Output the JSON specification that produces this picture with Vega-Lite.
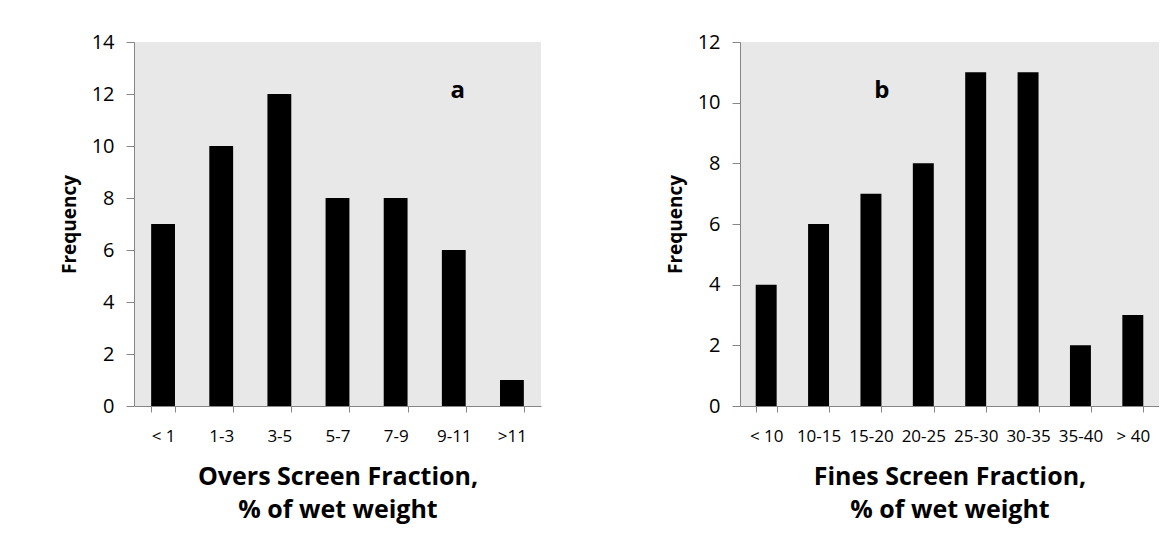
{
  "$schema": "https://vega.github.io/schema/vega-lite/v6.json",
  "padding": {"left": 60, "top": 32, "right": 0, "bottom": 10},
  "background": "white",
  "spacing": 125,
  "config": {
    "font": "Open Sans",
    "view": {"fill": "#e8e8e8", "stroke": null},
    "axis": {
      "domainColor": "#868686",
      "tickColor": "#868686",
      "labelColor": "#000000",
      "titleColor": "#000000",
      "grid": false,
      "labelFont": "Open Sans",
      "titleFont": "Open Sans"
    }
  },
  "datasets": {
    "overs": [
      {"range": "< 1", "frequency": 7},
      {"range": "1-3", "frequency": 10},
      {"range": "3-5", "frequency": 12},
      {"range": "5-7", "frequency": 8},
      {"range": "7-9", "frequency": 8},
      {"range": "9-11", "frequency": 6},
      {"range": ">11", "frequency": 1}
    ],
    "fines": [
      {"range": "< 10", "frequency": 4},
      {"range": "10-15", "frequency": 6},
      {"range": "15-20", "frequency": 7},
      {"range": "20-25", "frequency": 8},
      {"range": "25-30", "frequency": 11},
      {"range": "30-35", "frequency": 11},
      {"range": "35-40", "frequency": 2},
      {"range": "> 40", "frequency": 3}
    ],
    "labelA": [{"range": "9-11", "frequency": 12.1, "text": "a"}],
    "labelB": [{"range": "15-20", "frequency": 10.4, "text": "b"}]
  },
  "hconcat": [
    {
      "width": 407,
      "height": 364,
      "encoding": {
        "x": {
          "field": "range", "type": "nominal",
          "scale": {"domain": ["< 1", "1-3", "3-5", "5-7", "7-9", "9-11", ">11"], "paddingInner": 0.59, "paddingOuter": 0.295},
          "axis": {
            "title": ["Overs Screen Fraction,", "% of wet weight"],
            "titleFontSize": 25, "titleFontWeight": "bold", "titleLineHeight": 33, "titlePadding": 20,
            "labelFontSize": 17, "labelAngle": 0, "labelPadding": 16, "tickSize": 6, "tickBand": "extent"
          }
        },
        "y": {
          "field": "frequency", "type": "quantitative",
          "scale": {"domain": [0, 14]},
          "axis": {
            "title": "Frequency", "titleFontSize": 19, "titleFontWeight": "bold", "titlePadding": 12,
            "values": [0, 2, 4, 6, 8, 10, 12, 14], "labelFontSize": 20, "labelPadding": 12, "tickSize": 8
          }
        }
      },
      "layer": [
        {"data": {"name": "overs"}, "mark": {"type": "bar", "color": "#000000"}},
        {"data": {"name": "labelA"}, "mark": {"type": "text", "fontSize": 24, "fontWeight": "bold", "dx": 4, "baseline": "middle"}, "encoding": {"text": {"field": "text"}}}
      ]
    },
    {
      "width": 419,
      "height": 364,
      "encoding": {
        "x": {
          "field": "range", "type": "nominal",
          "scale": {"domain": ["< 10", "10-15", "15-20", "20-25", "25-30", "30-35", "35-40", "> 40"], "paddingInner": 0.6, "paddingOuter": 0.3},
          "axis": {
            "title": ["Fines Screen Fraction,", "% of wet weight"],
            "titleFontSize": 25, "titleFontWeight": "bold", "titleLineHeight": 33, "titlePadding": 20,
            "labelFontSize": 17, "labelAngle": 0, "labelPadding": 16, "tickSize": 6, "tickBand": "extent"
          }
        },
        "y": {
          "field": "frequency", "type": "quantitative",
          "scale": {"domain": [0, 12]},
          "axis": {
            "title": "Frequency", "titleFontSize": 19, "titleFontWeight": "bold", "titlePadding": 12,
            "values": [0, 2, 4, 6, 8, 10, 12], "labelFontSize": 20, "labelPadding": 12, "tickSize": 8
          }
        }
      },
      "layer": [
        {"data": {"name": "fines"}, "mark": {"type": "bar", "color": "#000000"}},
        {"data": {"name": "labelB"}, "mark": {"type": "text", "fontSize": 24, "fontWeight": "bold", "dx": 11, "baseline": "middle"}, "encoding": {"text": {"field": "text"}}}
      ]
    }
  ]
}
